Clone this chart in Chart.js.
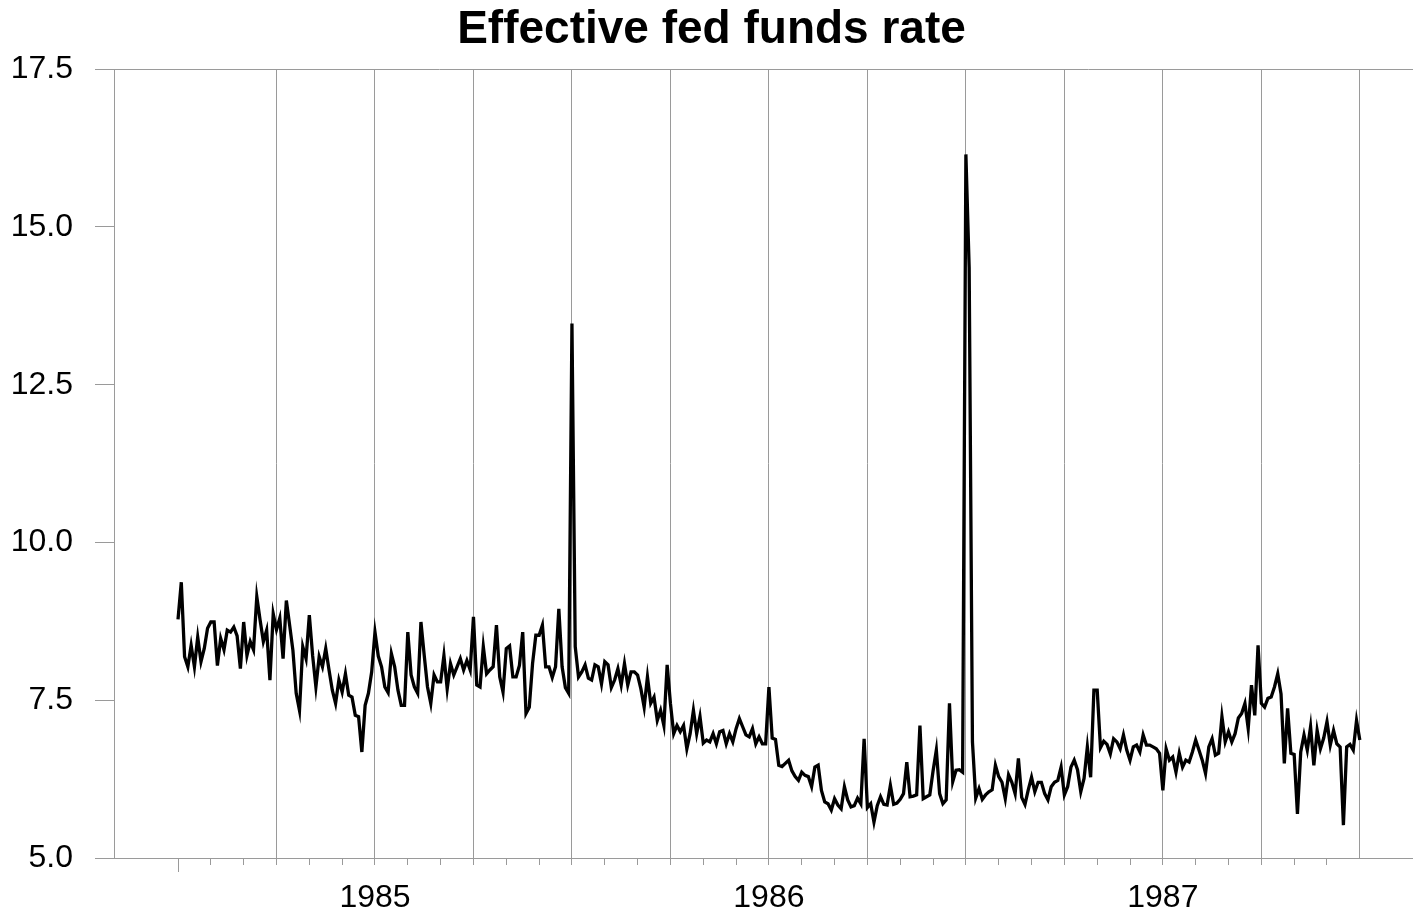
<!DOCTYPE html>
<html>
<head>
<meta charset="utf-8">
<script src="https://cdn.jsdelivr.net/npm/chart.js@4/dist/chart.umd.min.js"></script>
<style>
  html, body { margin: 0; padding: 0; background: #fff; }
  #wrap { width: 1413px; height: 915px; }
</style>
</head>
<body>
<div id="wrap"><canvas id="chart" width="1413" height="915"></canvas></div>
<script>
// effective fed funds rate (percent), one reading every tenth of a month
const rate1984b = [
  8.78, 9.37, 8.19, 8.03, 8.37, 8.03, 8.50, 8.11, 8.32, 8.64,
  8.74, 8.74, 8.05, 8.48, 8.30, 8.61, 8.58, 8.66, 8.52, 8.00,
  8.74, 8.21, 8.43, 8.30, 9.14, 8.77, 8.43, 8.61, 7.82, 8.87,
  8.62, 8.80, 8.16, 9.08, 8.69, 8.29, 7.61, 7.34, 8.35, 8.16,
  8.85, 8.21, 7.71, 8.19, 8.03, 8.32, 7.98, 7.66, 7.45, 7.82,
  7.63, 7.92, 7.58, 7.55, 7.26, 7.24, 6.68, 7.42, 7.61, 7.95
];
const rate1985a = [
  8.58, 8.20, 8.03, 7.71, 7.62, 8.24, 8.03, 7.66, 7.42, 7.42,
  8.58, 7.90, 7.71, 7.61, 8.74, 8.21, 7.71, 7.45, 7.90, 7.79,
  7.79, 8.21, 7.68, 8.08, 7.90, 8.03, 8.16, 7.98, 8.13, 7.98,
  8.82, 7.74, 7.71, 8.35, 7.92, 7.98, 8.03, 8.69, 7.87, 7.63,
  8.32, 8.36, 7.87, 7.87, 8.05, 8.58, 7.29, 7.39, 8.08, 8.53,
  8.53, 8.69, 8.03, 8.03, 7.86, 8.03, 8.95, 8.03, 7.70, 7.61
];
const rate1985b = [
  13.47, 8.35, 7.87, 7.95, 8.06, 7.85, 7.82, 8.06, 8.03, 7.76,
  8.11, 8.06, 7.70, 7.82, 8.00, 7.74, 8.08, 7.74, 7.95, 7.95,
  7.90, 7.68, 7.39, 7.87, 7.45, 7.55, 7.18, 7.34, 7.10, 8.06,
  7.45, 6.97, 7.10, 7.00, 7.10, 6.73, 6.97, 7.34, 6.97, 7.24,
  6.82, 6.87, 6.84, 6.97, 6.81, 7.00, 7.02, 6.81, 6.97, 6.84,
  7.05, 7.21, 7.08, 6.95, 6.92, 7.05, 6.81, 6.92, 6.81, 6.81
];
const rate1986a = [
  7.71, 6.90, 6.88, 6.47, 6.45, 6.50, 6.55, 6.38, 6.29, 6.23,
  6.36, 6.31, 6.29, 6.13, 6.44, 6.47, 6.07, 5.89, 5.86, 5.76,
  5.94, 5.84, 5.78, 6.13, 5.92, 5.81, 5.83, 5.95, 5.86, 6.89,
  5.80, 5.86, 5.57, 5.83, 5.97, 5.85, 5.84, 6.15, 5.85, 5.87,
  5.93, 6.02, 6.52, 5.97, 5.98, 6.00, 7.10, 5.94, 5.97, 6.00,
  6.38, 6.71, 6.02, 5.86, 5.92, 7.45, 6.21, 6.39, 6.40, 6.36
];
const rate1986b = [
  16.15, 14.35, 6.84, 5.95, 6.10, 5.93, 6.00, 6.05, 6.08, 6.47,
  6.29, 6.20, 5.94, 6.32, 6.20, 6.02, 6.58, 5.96, 5.85, 6.08,
  6.28, 6.05, 6.20, 6.20, 6.02, 5.92, 6.13, 6.20, 6.23, 6.44,
  6.00, 6.13, 6.44, 6.55, 6.40, 6.05, 6.26, 6.76, 6.28, 7.66,
  7.66, 6.75, 6.85, 6.80, 6.65, 6.89, 6.84, 6.73, 6.95, 6.71,
  6.55, 6.76, 6.79, 6.68, 6.95, 6.79, 6.79, 6.76, 6.73, 6.66
];
const rate1987a = [
  6.07, 6.73, 6.55, 6.60, 6.36, 6.66, 6.44, 6.55, 6.52, 6.68,
  6.87, 6.71, 6.55, 6.34, 6.76, 6.89, 6.63, 6.66, 7.24, 6.84,
  7.00, 6.84, 6.97, 7.22, 7.29, 7.45, 7.05, 7.74, 7.26, 8.37,
  7.45, 7.39, 7.53, 7.55, 7.71, 7.92, 7.60, 6.50, 7.37, 6.66,
  6.64, 5.70, 6.68, 6.95, 6.71, 7.08, 6.47, 7.02, 6.73, 6.90,
  7.16, 6.79, 7.02, 6.81, 6.76, 5.52, 6.76, 6.80, 6.71, 7.18,
  6.87
];

// first month of each block
const blockStarts = ['1984-07', '1985-01', '1985-07', '1986-01', '1986-07', '1987-01'];
const blocks = [rate1984b, rate1985a, rate1985b, rate1986a, rate1986b, rate1987a];

const baseYear = 1984;   // x values are months counted from Jan 1984
const yTicks = [5.0, 7.5, 10.0, 12.5, 15.0, 17.5];

function monthIndex(ym) {
    const [y, m] = ym.split('-').map(Number);
    return (y - baseYear) * 12 + (m - 1);
}

const points = [];
blocks.forEach((vals, b) => {
    const m0 = monthIndex(blockStarts[b]);
    vals.forEach((v, i) => points.push({x: m0 + i / 10, y: v}));
});

const firstMonth = monthIndex(blockStarts[0]);
const lastMonth = monthIndex('1987-07');
const monthTicks = [];
for (let m = firstMonth; m <= lastMonth; m++) monthTicks.push(m);

const GRID = '#9a9a9a';
const NONE = 'rgba(0,0,0,0)';
const FONT = "'Liberation Sans', Arial, Helvetica, sans-serif";

// the longer mark where the series begins
const firstTickMark = {
    id: 'firstTickMark',
    afterDraw(chart) {
        const {ctx, scales: {x}} = chart;
        const px = Math.round(x.getPixelForValue(firstMonth)) + 0.5;
        ctx.save();
        ctx.strokeStyle = GRID;
        ctx.lineWidth = 1;
        ctx.beginPath();
        ctx.moveTo(px, x.top);
        ctx.lineTo(px, x.top + 14);
        ctx.stroke();
        ctx.restore();
    }
};

new Chart(document.getElementById('chart'), {
    type: 'line',
    data: {
        datasets: [{
            label: 'Effective fed funds rate',
            data: points,
            borderColor: '#000',
            borderWidth: 3.3,
            pointRadius: 0,
            tension: 0,
            fill: false
        }]
    },
    options: {
        responsive: false,
        animation: false,
        devicePixelRatio: 1,
        layout: {padding: {left: 10, right: 0, top: 0, bottom: 0}},
        plugins: {
            legend: {display: false},
            tooltip: {enabled: false},
            title: {
                display: true,
                text: 'Effective fed funds rate',
                color: '#000',
                font: {family: FONT, size: 46, weight: 'bold'},
                padding: {top: 3, bottom: 11}
            }
        },
        scales: {
            x: {
                type: 'linear',
                min: 4.05,
                max: 43.62,
                afterBuildTicks: (scale) => {
                    scale.ticks = monthTicks.map(v => ({value: v}));
                },
                afterFit: (scale) => { scale.height = 57; },
                ticks: {
                    autoSkip: false,
                    maxRotation: 0,
                    padding: 14,
                    color: '#000',
                    font: {family: FONT, size: 32},
                    callback: (v) => (v % 12 === 0 ? String(baseYear + v / 12) : '')
                },
                grid: {
                    color: (ctx) => {
                        const v = ctx.tick ? ctx.tick.value : null;
                        return (v !== null && v % 3 === 0 && v > firstMonth) ? GRID : NONE;
                    },
                    tickColor: (ctx) => (ctx.tick && ctx.tick.value === lastMonth ? NONE : GRID),
                    tickLength: 7,
                    lineWidth: 1
                },
                border: {display: true, color: GRID}
            },
            y: {
                min: yTicks[0],
                max: yTicks[yTicks.length - 1],
                afterBuildTicks: (scale) => {
                    scale.ticks = yTicks.map(v => ({value: v}));
                },
                afterFit: (scale) => { scale.width = 104; },
                ticks: {
                    padding: 22,
                    color: '#000',
                    font: {family: FONT, size: 32},
                    callback: (v) => Number(v).toFixed(1)
                },
                grid: {
                    color: (ctx) => {
                        const v = ctx.tick ? ctx.tick.value : null;
                        return (v === yTicks[0] || v === yTicks[yTicks.length - 1]) ? GRID : NONE;
                    },
                    tickColor: GRID,
                    tickLength: 19,
                    lineWidth: 1
                },
                border: {display: true, color: GRID}
            }
        }
    },
    plugins: [firstTickMark]
});
</script>
</body>
</html>
